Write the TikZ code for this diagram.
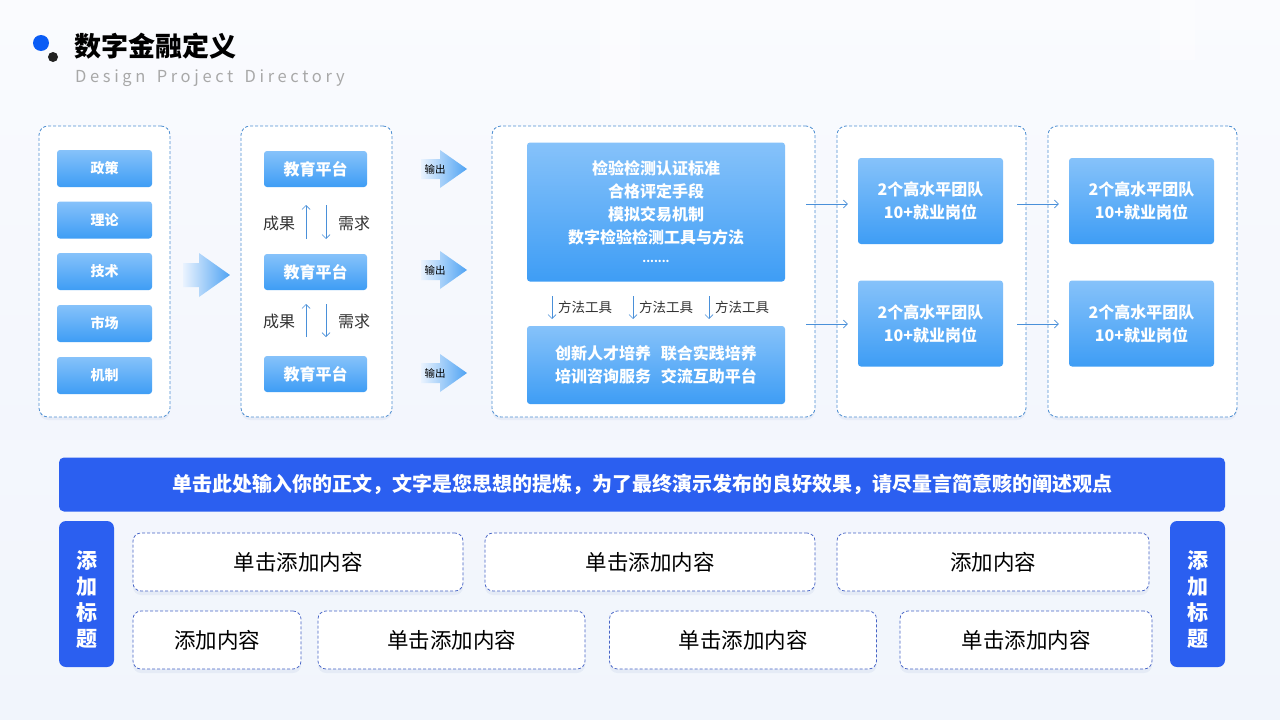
\documentclass[tikz,border=0pt]{standalone}
\usepackage{fontspec}
\setmainfont{Noto Sans CJK SC}
\usetikzlibrary{shadows,arrows.meta,calc}
\definecolor{bgtop}{HTML}{FAFBFE}
\definecolor{bgbot}{HTML}{EEF3FC}
\definecolor{panelc}{HTML}{4F8FD2}
\definecolor{boxtop}{HTML}{86C2FA}
\definecolor{boxbot}{HTML}{3E9DF5}
\definecolor{bannerc}{HTML}{2B5FF0}
\definecolor{contc}{HTML}{4563C6}
\definecolor{linec}{HTML}{4A90D9}
\definecolor{dotblue}{HTML}{0A5CF5}
\definecolor{dotdark}{HTML}{222222}
\definecolor{subgray}{HTML}{A8A8A8}
\definecolor{txtgray}{HTML}{333333}
\definecolor{shadowc}{HTML}{5070B0}
\definecolor{arrl}{HTML}{EAF3FE}
\definecolor{arrr}{HTML}{4FA3F3}
\tikzset{
  panel/.style={draw=panelc, dash pattern=on 3pt off 2pt, line width=0.85pt, rounded corners=9pt, fill=white,
    drop shadow={shadow xshift=0pt,shadow yshift=-3pt,opacity=0.07,fill=shadowc}, inner sep=0},
  gbox/.style={rounded corners=3pt, top color=boxtop, bottom color=boxbot, text=white, inner sep=0, align=center,
    font=\bfseries\fontsize{16}{23}\selectfont},
  sbox/.style={gbox, font=\bfseries\fontsize{14}{16}\selectfont, minimum width=95, minimum height=37},
  ebox/.style={gbox, minimum width=103, minimum height=36},
  tbox/.style={gbox, minimum width=145, minimum height=86},
  cbox/.style={draw=contc, dash pattern=on 3pt off 2pt, line width=0.75pt, rounded corners=8pt, fill=white,
    drop shadow={shadow xshift=0pt,shadow yshift=-4pt,opacity=0.08,fill=shadowc}, inner sep=0,
    font=\fontsize{21.5}{24}\selectfont, text=black, minimum height=58},
  side/.style={fill=bannerc, rounded corners=7pt, inner sep=0, minimum width=55, minimum height=146},
  sidetxt/.style={text=white, align=center, inner sep=0, font=\bfseries\fontsize{21}{26}\selectfont},
  conn/.style={draw=linec, line width=0.7pt, -{Straight Barb[length=4pt,width=8pt]}},
  lbl/.style={text=txtgray, font=\fontsize{16}{18}\selectfont, inner sep=0},
  flow/.style={left color=arrl, right color=arrr}
}
\begin{document}
\begin{tikzpicture}[x=1pt,y=-1pt]
\useasboundingbox (0,0) rectangle (1280,720);
\fill[top color=bgtop, bottom color=bgbot] (0,0) rectangle (1280,720);
\fill[white, opacity=0.35] (600,0) rectangle (640,110);
\fill[white, opacity=0.35] (1160,0) rectangle (1195,60);
\fill[bgbot!60!white, opacity=0.5] (0,440) rectangle (1280,720);

% title
\node[circle, fill=dotblue, minimum size=16, inner sep=0] (dotA) at (41,43) {};
\node[circle, fill=dotdark, minimum size=10, inner sep=0] (dotB) at (53,57) {};
\node[anchor=west, inner sep=0, font=\bfseries\fontsize{27}{30}\selectfont] (title) at (74,46.5) {数字金融定义};
\node[anchor=west, inner sep=0, text=subgray, font=\fontsize{16.5}{18}\selectfont\addfontfeatures{LetterSpace=22}] (subtitle) at (75,78.5) {Design\hspace{4pt} Project\hspace{4pt} Directory};

% panels
\node[panel, minimum width=131, minimum height=291] (p1) at (104.5,271.5) {};
\node[panel, minimum width=151, minimum height=291] (p2) at (316.5,271.5) {};
\node[panel, minimum width=323, minimum height=291] (p3) at (653.5,271.5) {};
\node[panel, minimum width=189, minimum height=291] (p4) at (931.5,271.5) {};
\node[panel, minimum width=189, minimum height=291] (p5) at (1142.5,271.5) {};

% panel 1
\node[sbox] (s1) at (104.5,168.5) {政策};
\node[sbox] (s2) at (104.5,220) {理论};
\node[sbox] (s3) at (104.5,271.5) {技术};
\node[sbox] (s4) at (104.5,323.5) {市场};
\node[sbox] (s5) at (104.5,375.5) {机制};

% big arrow
\path[flow] (183,263) -- (199,263) -- (199,253) -- (230,275) -- (199,297) -- (199,287) -- (183,287) -- cycle;

% panel 2
\node[ebox] (e1) at (315.5,169) {教育平台};
\node[ebox] (e2) at (315.5,272) {教育平台};
\node[ebox] (e3) at (315.5,374) {教育平台};
\node[lbl] (r1) at (279,223) {成果};
\node[lbl] (q1) at (354,223) {需求};
\node[lbl] (r2) at (279,321) {成果};
\node[lbl] (q2) at (354,321) {需求};
\coordinate (u1a) at (306,239); \coordinate (u1b) at (306,205);
\coordinate (d1a) at (326,205); \coordinate (d1b) at (326,239);
\coordinate (u2a) at (306,337); \coordinate (u2b) at (306,304);
\coordinate (d2a) at (326,304); \coordinate (d2b) at (326,337);
\draw[conn] (u1a) -- (u1b);
\draw[conn] (d1a) -- (d1b);
\draw[conn] (u2a) -- (u2b);
\draw[conn] (d2a) -- (d2b);

% output arrows
\foreach \yy/\nm in {169/o1,270/o2,373/o3}{
  \path[flow] (421,\yy-10) -- (440,\yy-10) -- (440,\yy-19) -- (467,\yy) -- (440,\yy+19) -- (440,\yy+10) -- (421,\yy+10) -- cycle;
  \node[inner sep=0, font=\fontsize{10.5}{12}\selectfont] (\nm) at (435,\yy) {输出};
}

% panel 3
\node[gbox, minimum width=258, minimum height=139] (top) at (656,212)
  {检验检测认证标准\\合格评定手段\\模拟交易机制\\数字检验检测工具与方法\\[-4pt]{\fontsize{11}{12}\selectfont .......}};
\node[gbox, minimum width=258, minimum height=78] (bot) at (656,365)
  {创新人才培养\hspace{0.6em}联合实践培养\\培训咨询服务\hspace{0.6em}交流互助平台};
\foreach \xx/\nm in {552/m1,633/m2,709/m3}{
  \coordinate (\nm a) at (\xx,296);
  \coordinate (\nm b) at (\xx,319);
  \draw[conn] (\nm a) -- (\nm b);
  \node[anchor=west, inner sep=0, text=txtgray, font=\fontsize{13.5}{15}\selectfont] (\nm t) at (\xx+6,307.5) {方法工具};
}

% panel 4 / 5
\node[tbox] (t1) at (930.5,201) {2个高水平团队\\10+就业岗位};
\node[tbox] (t2) at (930.5,323.5) {2个高水平团队\\10+就业岗位};
\node[tbox] (t3) at (1141.5,201) {2个高水平团队\\10+就业岗位};
\node[tbox] (t4) at (1141.5,323.5) {2个高水平团队\\10+就业岗位};
\coordinate (a1) at (806,204); \coordinate (a2) at (806,324);
\coordinate (a3) at (1017,204); \coordinate (a4) at (1017,324);
\draw[conn, shorten >=10pt] (a1) -- (a1 -| t1.west);
\draw[conn, shorten >=10pt] (a2) -- (a2 -| t2.west);
\draw[conn, shorten >=10pt] (a3) -- (a3 -| t3.west);
\draw[conn, shorten >=10pt] (a4) -- (a4 -| t4.west);

% banner
\node[fill=bannerc, rounded corners=5pt, minimum width=1166, minimum height=54, inner sep=0, text=white,
  font=\bfseries\fontsize{20}{22}\selectfont] (banner) at (642,484.5)
  {单击此处输入你的正文，文字是您思想的提炼，为了最终演示发布的良好效果，请尽量言简意赅的阐述观点};

% side labels
\node[side] (sl) at (86.5,594) {};
\node[sidetxt] (slt) at (86.5,600) {添\\加\\标\\题};
\node[side] (sr) at (1197.5,594) {};
\node[sidetxt] (srt) at (1197.5,600) {添\\加\\标\\题};

% content boxes
\node[cbox, minimum width=330] (c1) at (298,562) {单击添加内容};
\node[cbox, minimum width=330] (c2) at (650,562) {单击添加内容};
\node[cbox, minimum width=312] (c3) at (993,562) {添加内容};
\node[cbox, minimum width=168] (c4) at (217,640) {添加内容};
\node[cbox, minimum width=267] (c5) at (451.5,640) {单击添加内容};
\node[cbox, minimum width=267] (c6) at (743,640) {单击添加内容};
\node[cbox, minimum width=252] (c7) at (1026,640) {单击添加内容};
\end{tikzpicture}
\end{document}
